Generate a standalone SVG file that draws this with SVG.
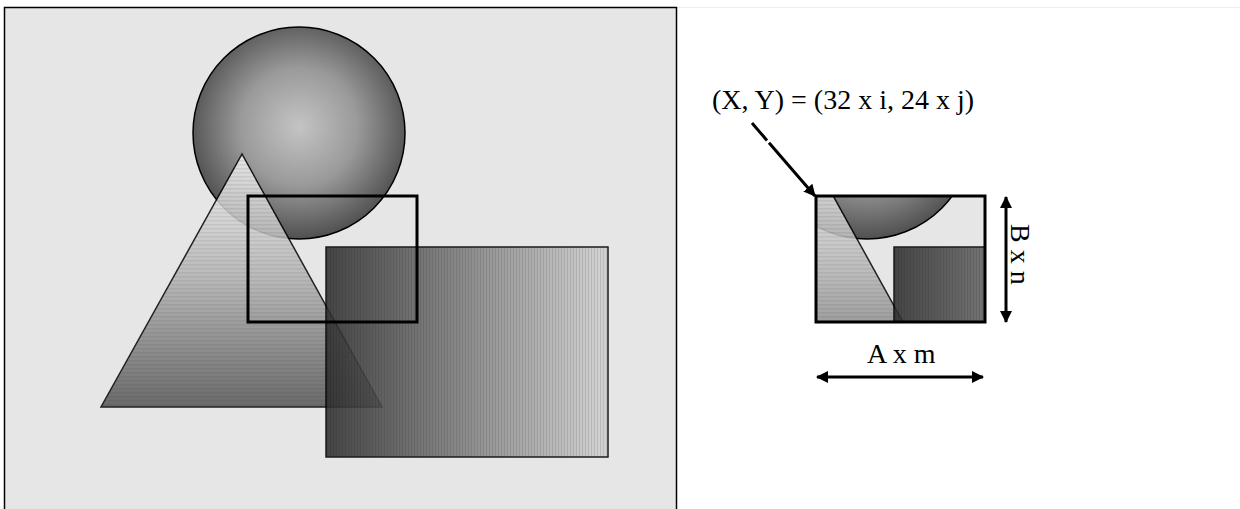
<svg xmlns="http://www.w3.org/2000/svg" xmlns:xlink="http://www.w3.org/1999/xlink" width="1240" height="509" viewBox="0 0 1240 509">
<style>
.lbl{font-family:"Liberation Serif","Times New Roman",serif;font-size:28px;fill:#000}
.edge{stroke:#000;stroke-width:1.5}
.win{fill:none;stroke:#000;stroke-width:3}
.conn{stroke:#000;stroke-width:3;fill:none}
</style>
<defs>
<radialGradient id="gCircle" cx="0.5" cy="0.47" r="0.55">
<stop offset="0" stop-color="#c4c4c4"/>
<stop offset="0.5" stop-color="#9a9a9a"/>
<stop offset="1" stop-color="#4a4a4a"/>
</radialGradient>
<linearGradient id="gTri" x1="0" y1="0" x2="0" y2="1">
<stop offset="0" stop-color="#f4f4f4"/>
<stop offset="0.5" stop-color="#b0b0b0"/>
<stop offset="1" stop-color="#555"/>
</linearGradient>
<linearGradient id="gRect" x1="0" y1="0" x2="1" y2="0">
<stop offset="0" stop-color="#2e2e2e"/>
<stop offset="1" stop-color="#d2d2d2"/>
</linearGradient>
<pattern id="pH" width="4" height="4" patternUnits="userSpaceOnUse">
<rect x="0" y="0" width="4" height="1.5" fill="#000" fill-opacity="0.08"/>
</pattern>
<pattern id="pV" width="3" height="4" patternUnits="userSpaceOnUse">
<rect x="0" y="0" width="1" height="4" fill="#000" fill-opacity="0.12"/>
</pattern>
<marker id="ah" markerWidth="12" markerHeight="12" viewBox="0 0 12 12" refX="11" refY="6" orient="auto-start-reverse" markerUnits="userSpaceOnUse">
<path d="M0,0 L12,6 L0,12 Z" fill="#000"/>
</marker>
<clipPath id="insetClip"><rect x="816" y="196" width="169" height="126"/></clipPath>
<g id="scene">
<g id="circle">
<circle cx="299" cy="133" r="106" fill="url(#gCircle)" class="edge"/>
</g>
<g id="triangle" opacity="0.85">
<polygon points="242,154 382,407 101,407" fill="url(#gTri)"/>
<polygon points="242,154 382,407 101,407" fill="url(#pH)" class="edge"/>
</g>
<g id="gradient-rect" opacity="0.88">
<rect x="326" y="247" width="282" height="210" fill="url(#gRect)"/>
<rect x="326" y="247" width="282" height="210" fill="url(#pV)" class="edge"/>
</g>
</g>
</defs>
<line x1="677" y1="7.5" x2="1240" y2="7.5" stroke="#eeeeee" stroke-width="1"/>
<g id="main-panel">
<rect x="4.5" y="7.5" width="672" height="520" fill="#e6e6e6" stroke="#000" stroke-width="1.5"/>
<use xlink:href="#scene" href="#scene"/>
</g>
<g id="window">
<rect x="248" y="196" width="169" height="126" class="win"/>
</g>
<g id="inset">
<rect x="816" y="196" width="169" height="126" fill="#e6e6e6"/>
<g clip-path="url(#insetClip)">
<use xlink:href="#scene" href="#scene" transform="translate(568,0)"/>
</g>
<rect x="816" y="196" width="169" height="126" class="win"/>
</g>
<g id="connectors">
<path d="M752,123 L767,140.5 M769,142.8 L815,196" class="conn" marker-end="url(#ah)"/>
<line x1="1006" y1="197" x2="1006" y2="322" class="conn" marker-start="url(#ah)" marker-end="url(#ah)"/>
<line x1="817" y1="377" x2="983" y2="377" class="conn" marker-start="url(#ah)" marker-end="url(#ah)"/>
</g>
<g id="labels">
<text class="lbl" x="712" y="109">(X, Y) = (32 x i, 24 x j)</text>
<text class="lbl" x="867" y="363">A x m</text>
<text class="lbl" transform="translate(1011,224) rotate(90)" x="0" y="0">B x n</text>
</g>
</svg>
